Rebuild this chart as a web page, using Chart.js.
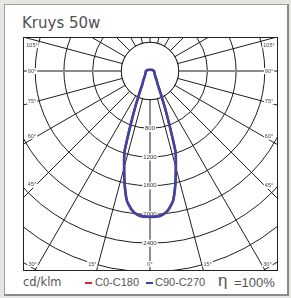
<!DOCTYPE html>
<html>
<head>
<meta charset="utf-8">
<script src="https://cdn.jsdelivr.net/npm/chart.js@4.4.1/dist/chart.umd.min.js"></script>
<style>
  html, body { margin: 0; padding: 0; width: 291px; height: 298px; overflow: hidden; background: #e7e5e2; }
  body { position: relative; font-family: "Liberation Sans", Arial, sans-serif; color: #555; }
  #panel { position: absolute; left: 4px; top: 4px; width: 282px; height: 289px; background: #fff;
           border: 1px solid #a0a0a0; border-right: 2px solid #8a8a8a; border-bottom: 2px solid #8a8a8a; }
  #title { position: absolute; left: 22px; top: 16px; font: 15px/1 "DejaVu Sans", sans-serif; color: #505050; white-space: nowrap; }
  #plot { position: absolute; left: 23px; top: 37px; width: 253px; height: 232px; border: 1px solid #222;
          overflow: hidden; background: #fff; }
  #c { position: absolute; left: -161px; top: -254px; }
  .t { position: absolute; white-space: nowrap; line-height: 1; }
  .dash { position: absolute; width: 7px; height: 2px; }
</style>
</head>
<body>
<div id="panel"></div>
<div id="title">Kruys 50w</div>
<div id="plot"><canvas id="c" width="574" height="574"></canvas></div>
<div class="t" style="left:23px;top:277px;font-family:'DejaVu Sans',sans-serif;font-size:11.5px;">cd/klm</div>
<div class="dash" id="d0" style="left:85px;top:282px;"></div>
<div class="t" id="l0" style="left:95px;top:277px;font-size:11px;"></div>
<div class="dash" id="d1" style="left:146px;top:282px;"></div>
<div class="t" id="l1" style="left:155px;top:277px;font-size:11px;"></div>
<div class="t" style="left:218px;top:272px;font-size:17px;">&eta;</div>
<div class="t" style="left:234px;top:276px;font-size:13px;">=100%</div>
<script>
// intensity (cd/klm) every 2.5 degrees, gamma 0 (down) to 180 (up)
const gammaStep = 2.5;
const c0c180 = [
  2034, 2034, 2014, 1955, 1846, 1632, 1397, 1187, 776, 524, 363, 272, 210, 186, 164, 144, 127,
  115, 104, 96, 90, 85, 81, 78, 75, 72, 70, 68, 66, 64, 62, 60, 59, 58, 57, 56, 56,
  53, 50, 47, 45, 44, 43, 40, 38, 35, 33, 31, 30, 28, 27, 26, 25, 24, 23, 22, 21,
  21, 20, 20, 19, 19, 19, 18, 18, 18, 18, 17, 17, 17, 17, 17, 17
];
const c90c270 = [
  2030, 2030, 2010, 1950, 1840, 1625, 1390, 1180, 770, 520, 360, 270, 209, 185, 163, 143, 126,
  114, 104, 96, 90, 85, 81, 78, 75, 72, 70, 68, 66, 64, 62, 60, 59, 58, 57, 56, 56,
  53, 50, 47, 45, 44, 43, 40, 38, 35, 33, 31, 30, 28, 27, 26, 25, 24, 23, 22, 21,
  21, 20, 20, 19, 19, 19, 18, 18, 18, 18, 17, 17, 17, 17, 17, 17
];
const seriesNames = ["C0-C180", "C90-C270"];
const seriesColors = ["#e8232f", "#3547a8"];
const radialTicks = [800, 1200, 1600, 2000, 2400];
const angleTicks = [0, 15, 30, 45, 60, 75, 90, 105];
const holeValue = 400;

const labels = [];
for (let g = 0; g < 360; g += gammaStep) labels.push(g);

// right half mirrors the left half of each plane
function fullCircle(half) {
  const n = half.length - 1;
  return labels.map((_, i) => half[i <= n ? i : 2 * n - i]);
}

// where the polar centre sits on the page, and the visible plot window
const CENTRE = { x: 150, y: 71 };
const VIEW = { left: 24, top: 38, width: 253, height: 232 };

document.getElementById("l0").textContent = seriesNames[0];
document.getElementById("l1").textContent = seriesNames[1];
document.getElementById("d0").style.background = seriesColors[0];
document.getElementById("d1").style.background = seriesColors[1];

const polarExtras = {
  id: "polarExtras",
  beforeDatasetsDraw(chart) {
    const r = chart.scales.r;
    const ctx = chart.ctx;
    const cx = r.xCenter, cy = r.yCenter;

    // white hole in the middle
    ctx.save();
    ctx.beginPath();
    ctx.arc(cx, cy, r.getDistanceFromCenterForValue(holeValue), 0, Math.PI * 2);
    ctx.fillStyle = "#fff";
    ctx.fill();
    ctx.strokeStyle = "#1e1e1e";
    ctx.lineWidth = 1;
    ctx.stroke();

    // radial value labels down the 0 degree line
    ctx.font = "6px 'Liberation Sans', Arial, sans-serif";
    ctx.textAlign = "center";
    ctx.textBaseline = "middle";
    radialTicks.forEach(v => {
      const y = cy + r.getDistanceFromCenterForValue(v);
      const w = ctx.measureText(String(v)).width;
      ctx.fillStyle = "#fff";
      ctx.fillRect(cx - w / 2 - 1, y - 3.5, w + 2, 7);
      ctx.fillStyle = "#333";
      ctx.fillText(String(v), cx, y);
    });

    // angle labels along the edge of the window
    const x0 = cx - (CENTRE.x - VIEW.left), y0 = cy - (CENTRE.y - VIEW.top);
    const x1 = x0 + VIEW.width, y1 = y0 + VIEW.height;
    ctx.font = "5.5px 'Liberation Sans', Arial, sans-serif";
    angleTicks.forEach(g => {
      const a = g * Math.PI / 180;
      (g === 0 ? [1] : [-1, 1]).forEach(side => {
        const dx = side * Math.sin(a), dy = Math.cos(a);
        const tSide = Math.abs(dx) > 1e-9 ? ((side < 0 ? x0 + 8 : x1 - 8) - cx) / dx : Infinity;
        const tBot = dy > 1e-9 ? (y1 - 6 - cy) / dy : Infinity;
        let px, py;
        if (tBot <= tSide) {
          px = cx + dx * tBot + (g ? side * 6 : 0);
          py = y1 - 6;
        } else {
          px = cx + dx * tSide;
          py = Math.max(cy + dy * tSide - 6 * Math.cos(a), y0 + 7);
        }
        const txt = g + "°";
        const w = ctx.measureText(txt).width;
        ctx.fillStyle = "#fff";
        ctx.fillRect(px - w / 2 - 1, py - 3, w + 2, 6);
        ctx.fillStyle = "#444";
        ctx.fillText(txt, px, py);
      });
    });
    ctx.restore();
  }
};

new Chart(document.getElementById("c"), {
  type: "radar",
  data: {
    labels,
    datasets: [
      { label: seriesNames[0], data: fullCircle(c0c180), borderColor: seriesColors[0],
        borderWidth: 2.5, fill: false, order: 1 },
      { label: seriesNames[1], data: fullCircle(c90c270), borderColor: seriesColors[1],
        borderWidth: 2.5, fill: false, order: 0 }
    ]
  },
  options: {
    responsive: false,
    animation: false,
    elements: { point: { radius: 0 }, line: { tension: 0.15 } },
    plugins: { legend: { display: false }, tooltip: { enabled: false } },
    scales: {
      r: {
        min: 0,
        max: 4000,
        startAngle: 180,
        ticks: { display: false, stepSize: 400 },
        pointLabels: { display: false },
        grid: { circular: true, color: "#1e1e1e", lineWidth: 1 },
        angleLines: {
          color: c => (c.index % 72 === 36 ? "#8a8a8a" : "#1e1e1e"),
          lineWidth: c => (c.index % 6 !== 0 ? 0 : c.index % 72 === 36 ? 2 : 1)
        }
      }
    }
  },
  plugins: [polarExtras]
});
</script>
</body>
</html>
